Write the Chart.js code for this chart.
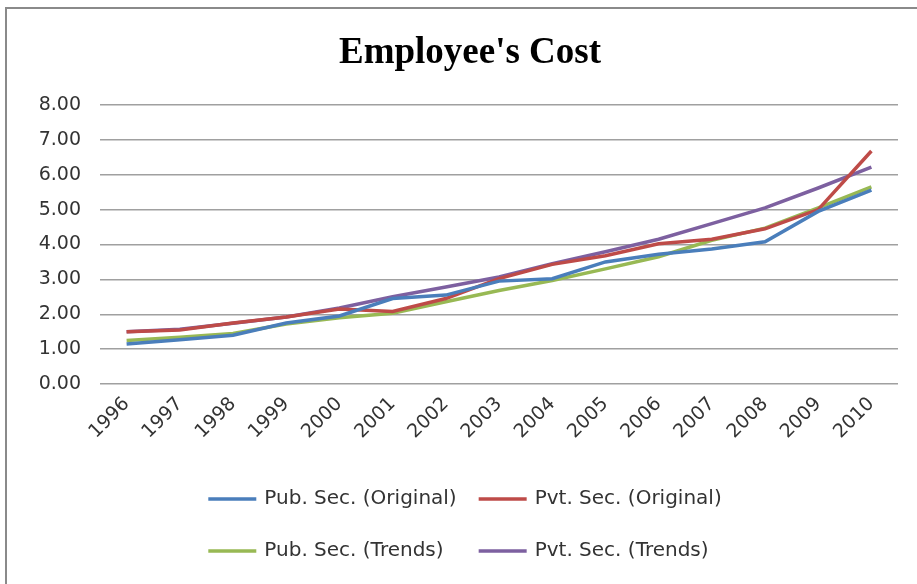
<!DOCTYPE html>
<html>
<head>
<meta charset="utf-8">
<style>
  html, body { margin: 0; padding: 0; background: #fff; }
  .chart-view { width: 917px; height: 584px; }
</style>
</head>
<body>
<div class="chart-view">
  <canvas id="myChart" width="917" height="584"></canvas>
</div>

<script src="https://cdn.jsdelivr.net/npm/chart.js@4.4.1/dist/chart.umd.min.js"></script>

<script>
// categories and series (cost index per year)
const years = ['1996', '1997', '1998', '1999', '2000', '2001', '2002', '2003',
               '2004', '2005', '2006', '2007', '2008', '2009', '2010'];

const pubOriginal = [1.15, 1.27, 1.40, 1.75, 1.95, 2.45, 2.55, 2.95, 3.02, 3.50, 3.72, 3.87, 4.08, 4.95, 5.56];
const pvtOriginal = [1.50, 1.55, 1.75, 1.92, 2.15, 2.08, 2.45, 3.02, 3.43, 3.68, 4.02, 4.15, 4.45, 5.00, 6.68];
const pubTrends   = [1.25, 1.34, 1.45, 1.72, 1.90, 2.03, 2.36, 2.68, 2.97, 3.30, 3.65, 4.12, 4.47, 5.05, 5.65];
const pvtTrends   = [1.50, 1.57, 1.74, 1.92, 2.18, 2.50, 2.78, 3.07, 3.45, 3.79, 4.15, 4.60, 5.05, 5.62, 6.22];

const seriesNames = ['Pub. Sec. (Original)', 'Pvt. Sec. (Original)', 'Pub. Sec. (Trends)', 'Pvt. Sec. (Trends)'];
const seriesColors = ['#4a7ebb', '#be4b48', '#98b954', '#7d60a0'];

const yTicks = { min: 0, max: 8, step: 1 };

const sansFamily = "'DejaVu Sans', 'Open Sans', sans-serif";
const tickFont = { family: sansFamily, size: 19 };

function makeSet(i, values) {
  return {
    label: seriesNames[i],
    data: values,
    borderColor: seriesColors[i],
    backgroundColor: seriesColors[i],
    borderWidth: 3.5,
    pointRadius: 0,
    tension: 0,
    fill: false
  };
}

// frame round the chart (left and top edges show)
const framePlugin = {
  id: 'frame',
  beforeDraw(chart) {
    const c = chart.ctx;
    c.save();
    c.fillStyle = '#fff';
    c.fillRect(0, 0, chart.width, chart.height);
    c.strokeStyle = '#8a8a8a';
    c.lineWidth = 2;
    c.strokeRect(6, 8, chart.width + 20, chart.height + 20);
    c.restore();
  }
};

// title sits a little right of the canvas centre
const titleShift = {
  id: 'titleShift',
  afterLayout(chart, args, opts) {
    if (chart.titleBlock) chart.titleBlock.left += opts.by;
  }
};

// legend in two rows, two columns, under the axis labels
const twoRowLegend = {
  id: 'twoRowLegend',
  afterDraw(chart, args, opts) {
    const c = chart.ctx;
    const sets = chart.data.datasets;
    c.save();
    c.font = opts.size + 'px ' + opts.family;
    c.textBaseline = 'middle';
    c.textAlign = 'left';
    const w = sets.map(d => c.measureText(d.label).width);
    const item = opts.lineLen + opts.gap;
    const col1 = Math.max(w[0], w[2]) + item + opts.colGap;
    const col2 = Math.max(w[1], w[3]) + item;
    const centerX = (chart.chartArea.left + chart.chartArea.right) / 2 + opts.shift;
    const x0 = centerX - (col1 + col2) / 2;
    const rows = [chart.height - opts.row1, chart.height - opts.row2];
    sets.forEach((d, i) => {
      const x = x0 + (i % 2 ? col1 : 0);
      const y = rows[Math.floor(i / 2)];
      c.strokeStyle = d.borderColor;
      c.lineWidth = 3.5;
      c.beginPath();
      c.moveTo(x, y);
      c.lineTo(x + opts.lineLen, y);
      c.stroke();
      c.fillStyle = '#333';
      c.fillText(d.label, x + item, y);
    });
    c.restore();
  }
};

const ctx = document.getElementById('myChart');

let chart = new Chart(ctx, {
  type: 'line',
  data: {
    labels: years,
    datasets: [
      makeSet(0, pubOriginal),
      makeSet(1, pvtOriginal),
      makeSet(2, pubTrends),
      makeSet(3, pvtTrends)
    ]
  },
  plugins: [framePlugin, titleShift, twoRowLegend],
  options: {
    responsive: false,
    animation: false,
    layout: { padding: { left: 10, right: 19, top: 0, bottom: 110 } },
    plugins: {
      legend: { display: false },
      tooltip: { enabled: false },
      title: {
        display: true,
        text: "Employee's Cost",
        color: '#000',
        font: { family: "'Liberation Serif', 'Times New Roman', serif", size: 37, weight: 'bold', lineHeight: 1.2 },
        padding: { top: 31, bottom: 29.6 }
      },
      titleShift: { by: 32 },
      twoRowLegend: {
        family: sansFamily,
        size: 20,
        lineLen: 48,
        gap: 8,
        colGap: 22,
        shift: -34,
        row1: 85,
        row2: 33
      }
    },
    scales: {
      x: {
        offset: true,
        grid: { display: false, drawTicks: false },
        border: { display: false },
        ticks: {
          color: '#333',
          font: tickFont,
          minRotation: 45,
          maxRotation: 45,
          padding: 9
        },
        afterFit(scale) { scale.height = 90; }
      },
      y: {
        min: yTicks.min,
        max: yTicks.max,
        grid: { color: '#a0a0a0', lineWidth: 1.5, drawTicks: false },
        border: { display: false },
        ticks: {
          stepSize: yTicks.step,
          color: '#333',
          font: tickFont,
          padding: 19,
          callback: v => Number(v).toFixed(2)
        },
        afterFit(scale) { scale.width = 90; }
      }
    }
  }
});
</script>
</body>
</html>
